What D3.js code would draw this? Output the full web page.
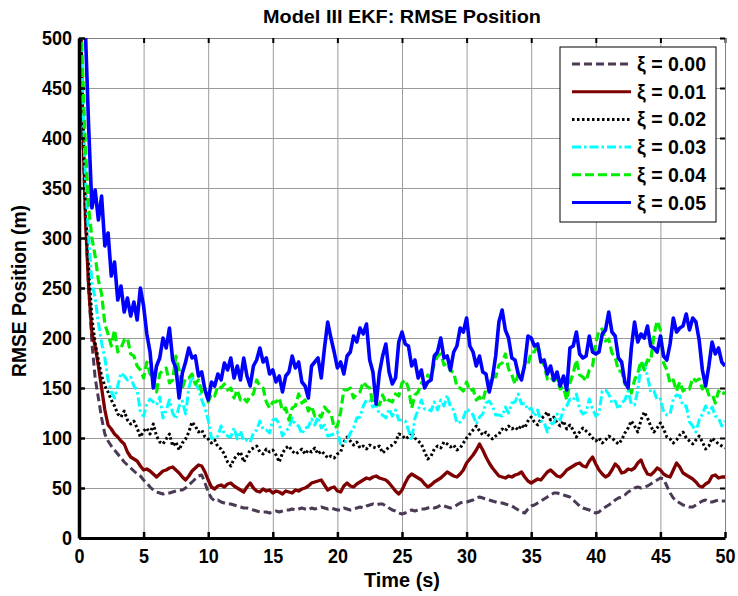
<!DOCTYPE html>
<html>
<head>
<meta charset="utf-8">
<script src="https://cdn.jsdelivr.net/npm/d3@7"></script>
<style>
  body { margin: 0; background: #fff; }
  svg { display: block; }
  text { font-family: "Liberation Sans", Arial, sans-serif; font-weight: bold; fill: #000; }
</style>
</head>
<body>
<svg id="chart" width="738" height="596"></svg>
<script>
// Sample spacing of the RMSE traces (seconds); one value per step from t = 0 to t = 50
const timeStep = 0.25;

const timeTicks = [0, 5, 10, 15, 20, 25, 30, 35, 40, 45, 50];
const rmseTicks = [0, 50, 100, 150, 200, 250, 300, 350, 400, 450, 500];

const seriesNames = ["\u03BE = 0.00", "\u03BE = 0.01", "\u03BE = 0.02", "\u03BE = 0.03", "\u03BE = 0.04", "\u03BE = 0.05"];

// RMSE position (m), one row per 5 s
const rmseXi000 = [
  600,420,320,250,195,160,140,120,104,97,92,88,84,80,76,73,70,67,64,62,
  58,55,51,48,46,45,44,45,45,46,47,48,48,50,53,56,59,62,63,55,
  46,40,37,38,36,35,34,34,33,32,31,30,30,29,28,27,26,26,26,25,
  26,27,26,27,28,28,29,28,29,30,29,28,30,29,30,31,30,29,30,29,
  28,28,30,29,28,29,30,31,30,32,33,34,33,34,34,32,30,28,27,25,
  24,25,27,28,27,28,29,29,30,31,30,31,33,32,31,30,31,33,35,36,
  36,37,38,40,41,40,39,38,37,36,35,35,34,33,32,30,28,26,25,29,
  32,33,35,37,39,41,43,45,45,44,43,42,41,38,35,32,30,29,28,26,
  25,26,29,31,33,35,38,40,41,43,46,48,50,51,50,51,52,54,56,58,
  60,59,52,45,40,37,35,33,32,31,31,33,35,37,38,36,36,37,38,37,
  37
];

const rmseXi001 = [
  600,440,320,250,205,192,172,150,128,113,109,104,101,97,94,86,81,79,77,72,
  68,69,67,64,61,64,67,68,70,71,68,65,61,58,62,67,70,73,72,66,
  58,51,49,52,53,51,54,55,52,50,48,46,51,55,50,47,46,49,47,48,
  45,47,46,44,47,46,45,48,47,49,50,52,55,56,57,58,53,48,50,51,
  47,46,52,55,52,51,54,56,58,60,59,61,62,60,59,58,55,51,47,44,
  48,55,61,64,62,60,58,54,51,53,56,58,60,63,66,64,62,61,64,68,
  75,79,83,88,94,88,81,75,70,66,62,61,60,62,61,63,64,66,61,57,
  55,57,59,58,62,66,68,65,62,61,64,68,70,72,74,75,72,71,77,81,
  74,68,64,61,63,68,74,71,65,66,69,68,70,75,78,70,64,63,66,70,
  68,64,62,61,68,75,71,65,63,61,59,56,52,51,54,56,62,63,60,61,
  61
];

const rmseXi002 = [
  600,440,330,270,220,195,178,162,152,146,138,132,124,121,127,118,114,117,110,101,
  107,110,104,114,102,96,94,99,104,92,96,88,95,99,106,116,112,106,108,101,
  99,95,98,91,89,84,76,72,79,83,86,76,82,88,90,92,86,84,89,86,
  88,83,76,85,90,92,87,84,86,89,84,88,86,90,84,87,84,80,82,80,
  84,86,96,101,97,93,96,90,92,89,93,91,90,92,85,88,91,93,96,104,
  103,99,101,106,100,97,94,86,79,82,89,92,90,96,94,91,93,88,90,95,
  100,104,108,112,107,103,106,102,99,102,104,109,107,112,109,111,108,113,110,117,
  121,116,113,119,122,126,118,121,115,112,117,109,113,108,101,106,110,107,104,100,
  97,100,95,98,102,100,97,94,98,105,110,117,112,106,118,126,120,112,106,110,
  115,109,101,99,95,98,103,106,100,97,94,98,102,96,89,92,100,97,94,92,
  90
];

const rmseXi003 = [
  600,460,360,300,255,240,215,195,180,158,146,140,152,165,162,158,161,152,148,126,
  122,134,139,136,133,141,120,128,138,125,119,132,137,124,150,161,155,149,138,130,
  118,100,99,102,112,104,102,101,110,99,107,97,98,96,105,108,117,109,108,105,
  118,119,114,102,107,110,120,113,112,104,110,111,119,113,121,110,113,102,103,104,
  106,94,96,97,105,110,120,121,132,138,138,131,133,124,123,120,129,122,128,118,
  118,117,108,98,120,128,138,129,129,127,136,128,138,132,143,131,128,115,116,120,
  129,127,123,114,121,124,135,137,132,123,123,122,131,125,135,136,144,134,135,128,
  130,122,128,117,116,106,114,115,124,118,129,132,139,138,144,129,124,126,139,129,
  122,125,147,148,144,135,137,129,135,138,147,134,133,148,172,174,162,146,147,138,
  139,126,123,124,139,143,142,132,132,116,112,106,118,124,132,125,131,122,120,112,
  117
];

const rmseXi004 = [
  600,480,390,330,300,282,258,244,214,204,192,208,186,190,198,200,184,182,172,168,
  160,176,164,160,146,164,168,170,155,158,182,168,150,160,160,164,154,158,146,150,
  136,144,142,152,150,154,148,150,140,148,138,140,136,142,144,158,152,150,136,130,
  136,136,140,127,130,118,130,132,144,135,138,127,132,122,124,121,131,127,125,110,
  112,126,148,148,150,140,144,146,156,152,150,134,134,133,143,135,138,136,144,142,
  155,158,150,130,143,146,155,153,163,160,175,182,184,173,175,167,166,151,150,147,
  156,147,149,138,141,137,149,152,163,161,173,175,184,169,163,154,164,162,171,173,
  186,186,194,179,173,159,161,157,159,149,151,138,155,165,178,163,161,157,168,172,
  195,208,209,197,199,185,181,167,167,154,155,145,158,165,177,168,178,177,203,217,
  208,175,168,155,158,147,156,147,150,149,160,157,159,149,153,143,144,135,147,143,
  146
];

const rmseXi005 = [
  600,560,505,410,330,348,318,342,292,305,262,276,238,252,226,240,222,236,218,250,
  232,204,186,150,172,180,200,190,210,178,170,140,165,176,190,180,182,162,166,148,
  138,156,152,164,158,175,168,180,160,172,158,180,162,152,172,178,190,176,180,164,
  168,156,162,146,162,166,182,170,176,156,152,140,172,176,180,160,190,216,200,186,
  170,176,164,182,186,202,196,210,204,214,178,166,134,165,182,194,166,154,160,196,
  206,194,192,172,178,160,168,150,156,158,182,186,200,180,182,168,186,192,210,206,
  220,192,186,172,182,166,164,146,160,182,216,228,208,200,180,178,164,158,174,202,
  200,192,194,176,178,164,172,158,166,152,162,148,190,192,206,184,180,182,202,186,
  184,186,204,208,226,206,202,180,176,156,150,190,216,196,204,200,212,192,190,186,
  202,182,178,194,220,206,210,212,224,208,220,216,198,168,152,172,196,184,190,176,
  172
];

const seriesData = [rmseXi000, rmseXi001, rmseXi002, rmseXi003, rmseXi004, rmseXi005];
const seriesColors = ["#4b3a55", "#7f0000", "#000000", "#00ffff", "#00ee00", "#0000ff"];
const seriesDash = ["8,4", null, "2.5,2.5", "9,3,2.5,3", "9,4", null];
const seriesWidth = [3, 3.3, 3, 3, 3.2, 3.6];

// ---- layout ----
const svg = d3.select("#chart");
const plot = { left: 79, right: 725, top: 38, bottom: 538 };

const x = d3.scaleLinear().domain([0, 50]).range([plot.left, plot.right]);
const y = d3.scaleLinear().domain([0, 500]).range([plot.bottom, plot.top]);

const gridColor = "#9a9a9a";
const digitWidth = 10;

// grid lines
svg.append("g")
  .attr("transform", `translate(0,${plot.bottom})`)
  .call(d3.axisBottom(x).tickValues(timeTicks.slice(1, -1)).tickSize(-(plot.bottom - plot.top)).tickFormat(""))
  .call(g => g.select(".domain").remove())
  .call(g => g.selectAll("line").attr("stroke", gridColor).attr("stroke-width", 1));

svg.append("g")
  .attr("transform", `translate(${plot.left},0)`)
  .call(d3.axisLeft(y).tickValues(rmseTicks.slice(1, -1)).tickSize(-(plot.right - plot.left)).tickFormat(""))
  .call(g => g.select(".domain").remove())
  .call(g => g.selectAll("line").attr("stroke", gridColor).attr("stroke-width", 1));

// top and right box edges with small inward ticks
svg.append("g")
  .attr("transform", `translate(0,${plot.top})`)
  .call(d3.axisTop(x).tickValues(timeTicks).tickSize(-5).tickSizeOuter(0).tickFormat(""))
  .call(g => g.select(".domain").attr("stroke", "#808080").attr("stroke-width", 1))
  .call(g => g.selectAll(".tick line").attr("stroke", "#000").attr("stroke-width", 2));

svg.append("g")
  .attr("transform", `translate(${plot.right},0)`)
  .call(d3.axisRight(y).tickValues(rmseTicks).tickSize(-5).tickSizeOuter(0).tickFormat(""))
  .call(g => g.select(".domain").attr("stroke", "#808080").attr("stroke-width", 1))
  .call(g => g.selectAll(".tick line").attr("stroke", "#000").attr("stroke-width", 2));

// data traces
const clipId = "plot-clip";
svg.append("clipPath").attr("id", clipId)
  .append("rect")
  .attr("x", plot.left).attr("y", plot.top)
  .attr("width", plot.right - plot.left).attr("height", plot.bottom - plot.top);

const line = d3.line()
  .x((d, i) => x(i * timeStep))
  .y(d => y(d));

const traces = svg.append("g").attr("clip-path", `url(#${clipId})`);
seriesData.forEach((values, k) => {
  traces.append("path")
    .datum(values)
    .attr("d", line)
    .attr("fill", "none")
    .attr("stroke", seriesColors[k])
    .attr("stroke-width", seriesWidth[k])
    .attr("stroke-linejoin", "round")
    .attr("stroke-dasharray", seriesDash[k]);
});

// bottom and left axes (thick, inward ticks, bold labels)
const xAxis = svg.append("g")
  .attr("transform", `translate(0,${plot.bottom})`)
  .call(d3.axisBottom(x).tickValues(timeTicks).tickSize(-6).tickSizeOuter(0).tickPadding(11).tickFormat(d3.format("d")));
xAxis.select(".domain").attr("stroke", "#000").attr("stroke-width", 3);
xAxis.selectAll(".tick line").attr("stroke", "#000").attr("stroke-width", 2.5);
xAxis.selectAll(".tick text")
  .attr("font-size", 20)
  .attr("textLength", d => String(d).length * digitWidth)
  .attr("lengthAdjust", "spacingAndGlyphs");

const yAxis = svg.append("g")
  .attr("transform", `translate(${plot.left},0)`)
  .call(d3.axisLeft(y).tickValues(rmseTicks).tickSize(-6).tickSizeOuter(0).tickPadding(7).tickFormat(d3.format("d")));
yAxis.select(".domain").attr("stroke", "#000").attr("stroke-width", 3.5);
yAxis.selectAll(".tick line").attr("stroke", "#000").attr("stroke-width", 2.5);
yAxis.selectAll(".tick text")
  .attr("font-size", 20)
  .attr("textLength", d => String(d).length * digitWidth)
  .attr("lengthAdjust", "spacingAndGlyphs");

svg.selectAll(".tick text").attr("font-family", null).style("font-weight", "bold");

// titles
svg.append("text")
  .attr("x", (plot.left + plot.right) / 2).attr("y", 23)
  .attr("text-anchor", "middle").attr("font-size", 19)
  .attr("textLength", 278).attr("lengthAdjust", "spacingAndGlyphs")
  .text("Model III EKF: RMSE Position");

svg.append("text")
  .attr("x", (plot.left + plot.right) / 2).attr("y", 587)
  .attr("text-anchor", "middle").attr("font-size", 20)
  .attr("textLength", 76).attr("lengthAdjust", "spacingAndGlyphs")
  .text("Time (s)");

svg.append("text")
  .attr("transform", `translate(26,${(plot.top + plot.bottom) / 2 + 3}) rotate(-90)`)
  .attr("text-anchor", "middle").attr("font-size", 20)
  .attr("textLength", 172).attr("lengthAdjust", "spacingAndGlyphs")
  .text("RMSE Position (m)");

// legend
const legend = svg.append("g").attr("transform", "translate(560,47)");
legend.append("rect")
  .attr("width", 156).attr("height", 175)
  .attr("fill", "#fff").attr("stroke", "#000").attr("stroke-width", 1);

const rowStep = 27.7;
seriesNames.forEach((name, k) => {
  const cy = 17 + k * rowStep;
  legend.append("line")
    .attr("x1", 12).attr("x2", 71).attr("y1", cy).attr("y2", cy)
    .attr("stroke", seriesColors[k]).attr("stroke-width", 3)
    .attr("stroke-dasharray", seriesDash[k]);
  legend.append("text")
    .attr("x", 77).attr("y", cy + 7)
    .attr("font-size", 20)
    .attr("textLength", 69).attr("lengthAdjust", "spacingAndGlyphs")
    .text(name);
});
</script>
</body>
</html>
